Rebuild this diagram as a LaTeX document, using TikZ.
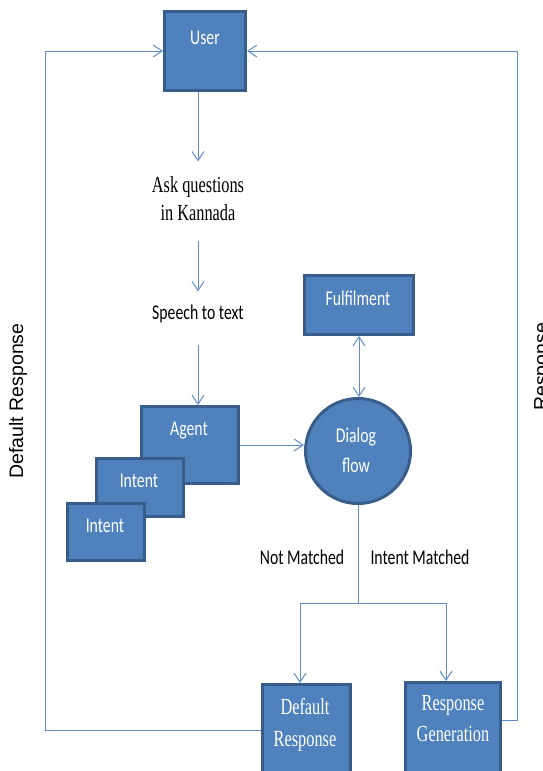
\documentclass[tikz,border=0pt]{standalone}
\usepackage{fontspec}
\setmainfont{Liberation Serif}[FakeStretch=0.71]
\newfontfamily\cfont{Carlito}[FakeStretch=0.75]
\newfontfamily\afont{Liberation Sans}
\usetikzlibrary{arrows.meta}
\definecolor{boxfill}{RGB}{79,129,189}
\definecolor{boxline}{RGB}{56,93,138}
\definecolor{flowline}{RGB}{96,141,200}
\begin{document}
\begin{tikzpicture}[x=1pt, y=-1pt,
    >={Straight Barb[length=9pt, width=12pt]},
    box/.style={draw=boxline, fill=boxfill, line width=3pt, inner sep=0pt},
    boxtext/.style={text=white, font=\cfont\fontsize{21}{25}\selectfont, inner sep=0pt},
    serifbox/.style={text=white, font=\fontsize{23}{31.5}\selectfont, align=center, inner sep=0pt},
    plain/.style={font=\cfont\fontsize{21}{25}\selectfont, inner sep=0pt},
    side/.style={font=\afont\fontsize{19.5}{23}\selectfont, rotate=90, inner sep=0pt},
    link/.style={draw=flowline, line width=1pt},
    flow/.style={link, ->}]
    \useasboundingbox (0,0) rectangle (542,771);
    \clip (0,0) rectangle (542,771);

    % User and the two questions steps
    \node[box, minimum width=81, minimum height=79] (user) at (205,51) {};
    \node[boxtext] (usertxt) at (205,38) {User};
    \node[font=\fontsize{23}{27.6}\selectfont, align=center, inner sep=15pt] (ask) at (198,198.5) {Ask questions\\in Kannada};
    \node[plain, inner ysep=13pt] (speech) at (198,313.5) {Speech to text};
    \draw[flow] (user.south -| ask.north) -- (ask.north);
    \draw[flow, shorten <=5pt] (ask.south) -- (speech.north);

    % Agent with its intents
    \node[box, minimum width=97, minimum height=77] (agent) at (190,445) {};
    \node[boxtext] (agenttxt) at (189,431) {Agent};
    \node[box, minimum width=87, minimum height=58] (intentb) at (140,487.5) {};
    \node[boxtext] (intentbtxt) at (139,481) {Intent};
    \node[box, minimum width=77, minimum height=57] (intenta) at (106,532) {};
    \node[boxtext] (intentatxt) at (105,526) {Intent};
    \draw[flow, shorten <=9pt] (speech.south) -- (speech.south |- agent.north);

    % Dialog flow and fulfilment
    \node[box, minimum width=109, minimum height=59] (fulfil) at (359,305) {};
    \node[boxtext] (fulfiltxt) at (358,298) {Fulfilment};
    \node[box, circle, minimum size=105] (dialog) at (358,451) {};
    \node[boxtext, font=\cfont\fontsize{21}{30}\selectfont, align=center] (dialogtxt) at (356,450) {Dialog\\flow};
    \draw[flow] (agent.east) -- (agent.east -| dialog.west);
    \draw[link, <->] (fulfil.south) -- (fulfil.south |- dialog.north);

    % Responses
    \node[box, minimum width=88, minimum height=91] (defres) at (306.5,730) {};
    \node[serifbox] (defrestxt) at (305,725) {Default\\Response};
    \node[box, minimum width=95, minimum height=107.5] (resgen) at (453,736.25) {};
    \node[serifbox, font=\fontsize{23}{31}\selectfont] (resgentxt) at (453,718.5) {Response\\Generation};
    \node[plain] (nomatch) at (302,557) {Not Matched};
    \node[plain] (match) at (420,557) {Intent Matched};
    \coordinate (split) at (359,603);
    \draw[link] (dialog.south) -- (dialog.south |- split);
    \draw[flow] (dialog.south |- split) -| ([xshift=-6.5pt]defres.north);
    \draw[flow] (dialog.south |- split) -| ([xshift=-7pt]resgen.north);

    % Loops back to the user
    \coordinate (lloop) at (45,730);
    \coordinate (rloop) at (517,720);
    \draw[flow] (defres.west) -- (lloop) -- (lloop |- user.west) -- (user.west);
    \draw[flow] (resgen.east |- rloop) -- (rloop) -- (rloop |- user.east) -- (user.east);
    \node[side] (lefttxt) at (18,401) {Default Response};
    \node[side] (righttxt) at (543,367) {Response};
\end{tikzpicture}
\end{document}
